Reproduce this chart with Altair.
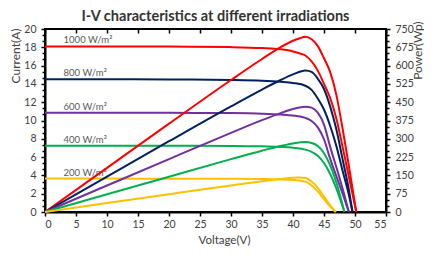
import altair as alt
import pandas as pd

labels = ["1000 W/m²", "800 W/m²", "600 W/m²", "400 W/m²", "200 W/m²"]
colors = ["#FF0000", "#002060", "#7030A0", "#00B050", "#FFC000"]
isc = [18.1, 14.5, 10.85, 7.25, 3.65]

# voltage (V), current (A), power (Wp)
v_1000 = [0, 10, 20, 30, 35, 38, 40, 41, 42, 43, 44, 45, 46, 47, 48, 49, 50.2]
i_1000 = [18.1, 18.1, 18.08, 18.02, 17.92, 17.78, 17.55, 17.35, 17.1, 16.45, 15.45, 14.0, 12.45, 10.2, 7.1, 3.9, 0]
p_1000 = [0, 181, 362, 541, 627, 676, 702, 711, 718, 708, 680, 630, 573, 479, 341, 191, 0]

v_800 = [0, 10, 20, 30, 35, 38, 40, 42, 43, 44, 45, 46, 47, 48, 49, 49.6]
i_800 = [14.5, 14.5, 14.48, 14.43, 14.35, 14.23, 14.1, 13.8, 13.35, 12.4, 11.2, 9.4, 7.2, 4.5, 1.9, 0]
p_800 = [0, 145, 290, 433, 502, 541, 564, 580, 574, 546, 504, 432, 338, 216, 93, 0]

v_600 = [0, 10, 20, 30, 35, 38, 40, 42, 43, 44, 45, 46, 47, 48, 49]
i_600 = [10.85, 10.85, 10.84, 10.81, 10.75, 10.66, 10.55, 10.28, 9.95, 9.25, 7.95, 5.8, 3.9, 2.0, 0]
p_600 = [0, 108.5, 216.8, 324.3, 376.3, 405.1, 422, 431.8, 427.9, 407, 357.8, 266.8, 183.3, 96, 0]

v_400 = [0, 10, 20, 30, 35, 38, 40, 42, 43, 44, 45, 46, 47, 48.3]
i_400 = [7.25, 7.25, 7.24, 7.22, 7.18, 7.11, 7.02, 6.82, 6.58, 6.15, 5.35, 4.15, 2.55, 0]
p_400 = [0, 72.5, 144.8, 216.6, 251.3, 270.2, 280.8, 286.4, 282.9, 270.6, 240.8, 190.9, 119.9, 0]

v_200 = [0, 10, 20, 30, 35, 38, 40, 41, 42, 43, 44, 45, 46, 46.9]
i_200 = [3.65, 3.65, 3.64, 3.63, 3.6, 3.56, 3.5, 3.44, 3.32, 2.9, 2.25, 1.4, 0.6, 0]
p_200 = [0, 36.5, 72.8, 108.9, 126, 135.3, 140, 141, 139.4, 124.7, 99, 63, 27.6, 0]

x_ticks = [0, 5, 10, 15, 20, 25, 30, 35, 40, 45, 50, 55]

series = [(v_1000, i_1000, p_1000), (v_800, i_800, p_800), (v_600, i_600, p_600),
          (v_400, i_400, p_400), (v_200, i_200, p_200)]
rows = []
for name, (vs, cs, ps) in zip(labels, series):
    for k, (v, c, p) in enumerate(zip(vs, cs, ps)):
        rows.append({"g": name, "V": v, "I": c, "P": p, "o": k})
df = pd.DataFrame(rows)
lab_df = pd.DataFrame({"g": labels, "Isc": isc})

FONT = "Lato"
TXT = "#404040"

x_scale = alt.Scale(domain=[0, 55], nice=False, zero=False)
yi_scale = alt.Scale(domain=[0, 20], nice=False)
yp_scale = alt.Scale(domain=[0, 750], nice=False)
color = alt.Color("g:N", scale=alt.Scale(domain=labels, range=colors), legend=None)

left_vals = [round(k * 2 / 3, 4) for k in range(31)]
right_vals = [k * 25 for k in range(31)]

text = alt.Chart(lab_df).mark_text(
    align="left", baseline="bottom", dy=-1, fontSize=9.5, font=FONT, color="#595959"
).encode(
    x=alt.XDatum(3.0, type="quantitative", scale=x_scale, axis=None),
    y=alt.Y("Isc:Q", scale=yi_scale, axis=None),
    text="g:N",
)

iv = alt.Chart(df).mark_line(strokeWidth=2, interpolate="monotone").encode(
    x=alt.X("V:Q", scale=x_scale, axis=alt.Axis(
        values=x_ticks, title="Voltage(V)", tickSize=4, labelPadding=3,
        titleX=179, titleY=28, titleAlign="center", titleBaseline="middle",
        titleFontSize=11.5)),
    y=alt.Y("I:Q", scale=yi_scale, axis=alt.Axis(
        values=left_vals,
        labelExpr="datum.value % 2 === 0 ? format(datum.value, 'd') : ''",
        tickSize={"condition": {"test": "datum.value % 2 === 0", "value": 4}, "value": 3},
        labelPadding=5, title="Current(A)", titleAngle=270, titleAlign="right",
        titleBaseline="middle", titleX=-30, titleY=-1)),
    color=color,
    order="o:Q",
)

pw = alt.Chart(df).mark_line(strokeWidth=2, interpolate="monotone").encode(
    x=alt.X("V:Q", scale=x_scale, axis=alt.Axis(
        orient="top", values=x_ticks, labels=False, domain=False, ticks=True,
        tickSize=4, offset=-4, title=None)),
    y=alt.Y("P:Q", scale=yp_scale, axis=alt.Axis(
        orient="right", values=right_vals,
        labelExpr="datum.value % 75 === 0 ? format(datum.value, 'd') : ''",
        tickSize={"condition": {"test": "datum.value % 75 === 0", "value": 4}, "value": 3},
        labelPadding=5, title="Power(Wp)", titleAngle=270, titleAlign="right",
        titleBaseline="middle", titleX=31, titleY=-8)),
    color=color,
    order="o:Q",
)

chart = alt.layer(text, iv, pw).resolve_scale(
    y="independent"
).resolve_axis(
    x="independent", y="independent"
).properties(
    width=341, height=183,
    autosize=alt.AutoSizeParams(type="none"),
    padding={"left": 37, "top": 21, "right": 38, "bottom": 36},
    title=alt.TitleParams("I-V characteristics at different irradiations",
                          font=FONT, fontSize=14.5, fontWeight="bold", color="#333333",
                          anchor="middle", offset=0, dy=3),
).configure_view(
    stroke="black", strokeWidth=2
).configure_axis(
    grid=False, domainColor="black", domainWidth=2, tickColor="black", tickWidth=1.5,
    labelFont=FONT, labelFontSize=10.5, labelColor=TXT,
    titleFont=FONT, titleFontSize=12, titleFontWeight="normal", titleColor=TXT,
)

chart.save("out.html", embed_options={"renderer": "svg", "actions": False})
